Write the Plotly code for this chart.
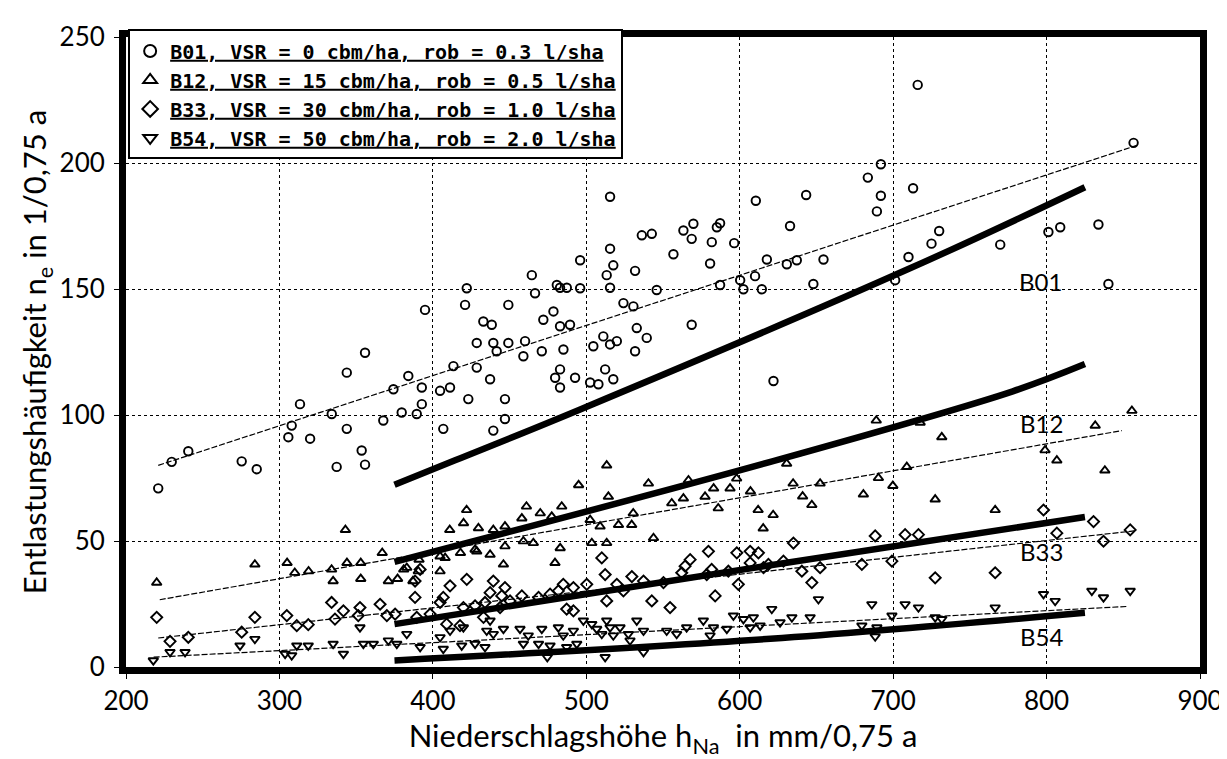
import plotly.graph_objects as go

# ---------------- data ----------------
b01_x = [221, 229.8, 240.6, 275.4, 285.2, 305.8, 308, 313.4, 320, 334.1, 337.3, 343.9, 343.9, 353.6, 355.8, 355.8,
         367.7, 374.3, 379.7, 384, 389.5, 392.8, 392.8, 394.9, 404.7, 406.8, 411.2, 413.4, 421, 422.1, 423.1,
         428.6, 428.6, 432.9, 437.3, 438.4, 439.4, 439.4, 441.6, 447, 447, 449.2, 449.2, 459, 460.1, 464.5,
         466.6, 471, 472, 478.6, 480.8, 479.7, 482.9, 482.9, 482.9, 482.9, 485.1, 487.3, 489.4, 492.7, 496,
         496, 502.5, 504.6, 507.9, 511.1, 512.3, 513.3, 515.5, 515.5, 515.5, 515.5, 517.6, 517.6, 519.9, 524.2,
         530.7, 531.8, 531.8, 532.9, 536.2, 539.4, 542.7, 545.9, 556.8, 563.3, 568.7, 568.7, 569.8, 580.7,
         581.8, 585.1, 587.2, 587.2, 596.4, 600.3, 602.4, 610, 610.5, 614.4, 617.7, 622, 630.7, 632.8, 637.2,
         643.3, 648, 654.6, 683.5, 689.4, 692, 692, 701.3, 710, 713, 716, 725, 730, 769.8, 801.2, 808.9,
         833.8, 840.3, 856.7]
b01_y = [70.9, 81.4, 85.6, 81.6, 78.5, 91.2, 95.8, 104.3, 90.6, 100.4, 79.4, 94.5, 116.8, 85.9, 80.3, 124.7,
         97.8, 110.2, 101, 115.5, 100.4, 110.9, 104.3, 141.7, 109.6, 94.5, 110.9, 119.4, 143.7, 150.3, 106.3,
         128.6, 118.8, 137.1, 114.2, 135.8, 128.6, 93.8, 125.3, 106.3, 98.4, 143.7, 128.6, 123.3, 129.3, 155.5,
         148.3, 125.3, 137.8, 141.1, 151.6, 114.8, 150.5, 135.2, 118.1, 110.9, 126, 150.5, 135.8, 114.8, 161.4,
         150.3, 112.9, 127.3, 112.2, 131.2, 118.1, 155.5, 186.6, 166, 150.5, 128, 159.4, 114.2, 129.3, 144.4,
         143.1, 157.2, 125.3, 134.5, 171.3, 130.6, 171.9, 149.6, 163.8, 173.2, 169.9, 135.8, 175.9, 160.1,
         168.6, 174.5, 176.1, 151.6, 168.2, 153.5, 149.9, 155.1, 185, 149.9, 161.7, 113.5, 159.8, 175, 161.4,
         187.3, 152, 161.7, 194.2, 180.8, 199.5, 187, 153.5, 162.7, 190, 231, 168, 173, 167.6, 172.6, 174.5,
         175.6, 152, 208]

b12_x = [220, 284, 305, 310, 319, 334, 335, 343, 344, 353, 353, 367, 371, 377, 381, 383,
         387, 390.5, 391, 404.7, 404.7, 408, 411, 418, 420, 422, 427.5, 428.6, 429.7, 437.3, 439.4, 446,
         447, 447, 458, 459, 461, 465.5, 470, 477.5, 479.6, 483, 484, 495, 502.5, 503.6, 509, 513.3, 513.3,
         514.4, 521, 529.6, 530.6, 540.5, 543.8, 555.7, 563.3, 566.6, 577.4, 583, 586, 593.7, 598, 607, 612,
         615.3, 621.8, 630.6, 634.8, 641, 647, 652.4, 680.6, 689, 690.4, 699.8, 708.9, 717.6, 727.4, 731.7,
         766.5, 799, 806.7, 831.7, 838, 855.6]
b12_y = [33.5, 40.7, 41.3, 37.4, 38, 38.7, 34.1, 54.4, 41.3, 41.3, 35, 45.3, 34.1, 35, 38.7, 39.4,
         34.1, 38, 42.6, 38, 43.9, 43.3, 54.4, 45.3, 57.1, 62.3, 46.6, 45.9, 55.1, 44.6, 54.4, 40.7,
         55.8, 47.9, 59, 49.9, 63.7, 49.2, 61, 59.7, 41.3, 47.2, 63.7, 72.2, 58.4, 49.2, 55.8, 80, 49.2,
         67.6, 56.4, 56.4, 61, 72.8, 51.2, 65, 66.9, 74.1, 67.6, 70.9, 63, 70.9, 74.8, 69.7, 62.3,
         55, 60.3, 80.7, 72.8, 67.7, 64.3, 72.8, 68.5, 97.8, 75, 71.9, 79.4, 97, 66.5, 91.2,
         62.3, 86, 82, 95.8, 78, 101.7]

b33_x = [220, 228.7, 240.6, 275.4, 284, 304.8, 311.3, 318.8, 334, 336.2, 341.7, 351.4, 352.5, 365.6, 370, 375.4,
         388.4, 391.7, 388.4, 389.5, 398.2, 404.7, 406.8, 409, 411.2, 417.7, 419.9, 422.1, 427.5, 433, 434,
         437.3, 439.4, 443.8, 444.9, 447, 450.3, 458, 468.9, 476.4, 481.8, 485, 487.2, 491.6, 491.6, 500.3,
         510.1, 512.3, 513.3, 519.9, 524.2, 529.7, 537.3, 542.7, 550.3, 554.6, 562.2, 564.4, 567.7, 578.5,
         579.6, 581.7, 584, 592.6, 598.1, 599.1, 606.8, 606.8, 612.2, 615.5, 618.7, 628.5, 635, 640.5, 647,
         652.4, 679.6, 688.3, 699.2, 707.8, 716.5, 727.4, 766.5, 798, 806.7, 830.6, 837.1, 854.5]
b33_y = [19.7, 10.2, 11.8, 13.8, 19.7, 20.4, 16.4, 16.8, 25.6, 19, 22.3, 20.4, 23.6, 24.9, 20.4, 21,
         34.1, 38.7, 27.6, 19.7, 21, 25.6, 27.6, 17, 32.2, 16.4, 23.6, 34.8, 24.3, 19.7, 25.6,
         29.5, 34.1, 23.6, 28.2, 31.5, 26.2, 28.2, 27.6, 28.9, 30.2, 32.8, 23, 31.5, 22.3, 32.8,
         43.3, 36.7, 26.2, 32.8, 30.2, 35.9, 34.1, 26.2, 33.5, 23.6, 37.4, 40, 42.6, 36.7,
         45.9, 38.7, 28.2, 38, 45.3, 32.8, 45.9, 41.3, 45.3, 39.4, 40.7, 42, 49.2, 38, 33.5,
         39.4, 40.7, 52, 42, 52.5, 52.5, 35.4, 37.4, 62.3, 53.1, 57.7, 49.9, 54.4]

b54_x = [217.8, 228.7, 238.5, 274.3, 284, 303.7, 308, 311.3, 318.8, 335, 341.7, 352.5, 354.7, 361.2, 371, 376.5,
         383, 391.7, 404.7, 406.8, 411.2, 418.8, 419.9, 427.5, 434, 435.1, 437.3, 439.4, 446, 456.8, 459,
         462.2, 468.9, 471, 474.6, 476.4, 481.8, 485, 487.2, 491.6, 493.8, 498.1, 503.6, 506.8, 510.1, 512.3,
         513.3, 515.5, 517.6, 522, 527.4, 528.5, 532.9, 537.3, 537.3, 552.4, 558.9, 565.4, 576.3, 580.7, 582.9,
         591.6, 595.9, 602.4, 606.8, 608.9, 613.3, 620.9, 626.3, 634, 645.9, 651.3, 679.6, 686.1, 688.3, 689.4,
         699.2, 707.8, 716.5, 727.4, 731.7, 766.5, 798, 805.6, 829.5, 837.1, 854.5]
b54_y = [2.6, 5.9, 5.9, 8.5, 11.1, 5.2, 4.6, 8.5, 8.5, 9.2, 5.2, 15.7, 9.2, 9.2, 10.5, 9.2,
         13.1, 7.9, 11.8, 7.2, 14.4, 8.5, 15.7, 9.2, 7.9, 14.4, 18.4, 13.1, 15.1, 15.1, 9.2,
         12.5, 9.2, 15.1, 3.9, 8.5, 15.7, 12.5, 7.9, 14.4, 9.2, 18.4, 17, 15.1, 13.1, 3.9,
         18.4, 15.7, 12.5, 15.7, 13.1, 10.5, 18.4, 14.4, 5.9, 14.4, 13.1, 15.7, 18.4, 12.5, 15.7,
         15.1, 20.4, 19, 15.7, 19.7, 16.4, 23, 17.7, 19.7, 19.7, 26.9, 16.4, 24.9, 12.1, 15.7,
         20.4, 24.9, 23.6, 19.7, 19, 23.6, 28.9, 26.2, 30.2, 27.6, 30.2]

# thin regression lines (end points)
trend_b01_x, trend_b01_y = [221, 859], [80, 207]
trend_b12_x, trend_b12_y = [222, 849], [26.7, 93.8]
trend_b33_x, trend_b33_y = [221, 857], [11.5, 54]
trend_b54_x, trend_b54_y = [218, 852], [3.9, 24]

# thick model curves
model_b01_x, model_b01_y = [375, 414.5, 496, 711, 825], [72.3, 82, 102.2, 158.2, 190.4]
model_b12_x, model_b12_y = [375, 620, 778, 825], [41.7, 81.4, 109.4, 120.2]
model_b33_x, model_b33_y = [375, 620, 825], [17, 40.4, 59.5]
model_b54_x, model_b54_y = [375, 620, 825], [2.6, 11.2, 21.5]

legend_names = [
    "<u>B01, VSR = 0 cbm/ha, rob = 0.3 l/sha</u>",
    "<u>B12, VSR = 15 cbm/ha, rob = 0.5 l/sha</u>",
    "<u>B33, VSR = 30 cbm/ha, rob = 1.0 l/sha</u>",
    "<u>B54, VSR = 50 cbm/ha, rob = 2.0 l/sha</u>",
]
curve_labels = ["B01", "B12", "B33", "B54"]
curve_label_x = [796, 797, 797, 797]
curve_label_y = [153, 96.5, 46, 12]

x_ticks = [200, 300, 400, 500, 600, 700, 800, 900]
y_ticks = [0, 50, 100, 150, 200, 250]

# ---------------- figure ----------------
fig = go.Figure()

trend_sets = [(trend_b01_x, trend_b01_y), (trend_b12_x, trend_b12_y),
              (trend_b33_x, trend_b33_y), (trend_b54_x, trend_b54_y)]
for tx, ty in trend_sets:
    fig.add_trace(go.Scatter(x=tx, y=ty, mode="lines", showlegend=False, hoverinfo="skip",
                             line=dict(color="black", width=1.2, dash="6px,2px")))

model_sets = [(model_b01_x, model_b01_y), (model_b12_x, model_b12_y),
              (model_b33_x, model_b33_y), (model_b54_x, model_b54_y)]
for mx, my in model_sets:
    fig.add_trace(go.Scatter(x=mx, y=my, mode="lines", showlegend=False, hoverinfo="skip",
                             line=dict(color="black", width=6.5, shape="spline", smoothing=1.0)))

series = [(b01_x, b01_y, "circle-open", 8.5), (b12_x, b12_y, "triangle-up-open", 8.5),
          (b33_x, b33_y, "diamond-open", 8.5), (b54_x, b54_y, "triangle-down-open", 8.5)]
for i, (sx, sy, sym, sz) in enumerate(series):
    fig.add_trace(go.Scatter(x=sx, y=sy, mode="markers", name=legend_names[i],
                             legendgroup=f"g{i}",
                             marker=dict(symbol=sym, size=sz, color="black",
                                         line=dict(color="black", width=1.9))))

for lab, lx, ly in zip(curve_labels, curve_label_x, curve_label_y):
    fig.add_annotation(x=lx, y=ly, text=lab, showarrow=False,
                       font=dict(family="Lato", size=24, color="black"))

axis_common = dict(showline=True, linecolor="black", linewidth=7, mirror=True,
                   showgrid=True, gridcolor="black", gridwidth=1.2, griddash="dot",
                   ticks="outside", ticklen=5, tickwidth=1, tickcolor="black",
                   zeroline=False,
                   tickfont=dict(family="Lato", size=26, color="black"))

fig.update_layout(
    width=1227, height=759,
    margin=dict(l=118, r=35, t=22, b=100),
    paper_bgcolor="white", plot_bgcolor="white",
    showlegend=True,
    legend=dict(x=0.002, y=1.012, xanchor="left", yanchor="top",
                bgcolor="white", bordercolor="black", borderwidth=2,
                font=dict(family="DejaVu Sans Mono", size=20, color="black", weight="bold"),
                tracegroupgap=0, itemsizing="constant"),
    xaxis=dict(range=[200, 900], tickvals=x_ticks,
               title=dict(text="Niederschlagshöhe h<sub>Na</sub> &nbsp;in mm/0,75 a",
                          font=dict(family="Lato", size=31, color="black"), standoff=4),
               **axis_common),
    yaxis=dict(range=[0, 250], tickvals=y_ticks, ticklabelstandoff=4,
               title=dict(text="Entlastungshäufigkeit n<sub>e</sub> in 1/0,75 a",
                          font=dict(family="Lato", size=31, color="black"), standoff=6),
               **axis_common),
)

fig.write_html("out.html")
